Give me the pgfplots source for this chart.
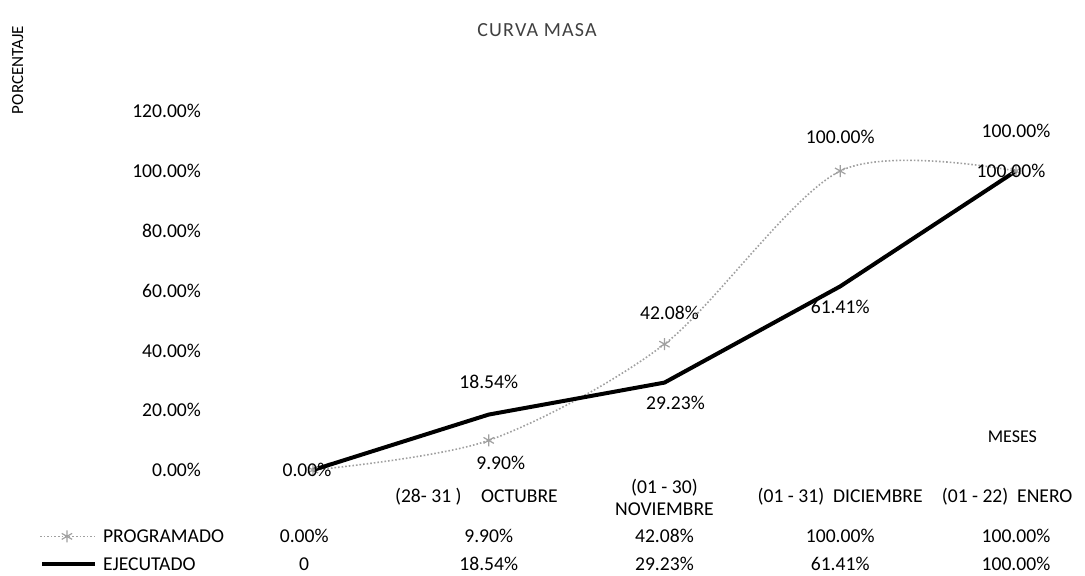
\documentclass[border=0pt]{standalone}
\usepackage{fontspec}
\setmainfont{Carlito}
\usepackage{pgfplots}
\usepackage{pgfplotstable}
\pgfplotsset{compat=1.18}
\definecolor{prog}{RGB}{160,160,160}
\pgfplotstableread{
x y lab dx dy
0 0 0.00\% -3 0
1 9.90 9.90\% 6 -11
2 42.08 42.08\% 2.5 15.5
3 100 100.00\% 0 17
4 100 100.00\% 0 20
}\prog
\pgfplotstableread{
x y lab dx dy
0 0 {} 0 0
1 18.54 18.54\% 0 16.5
2 29.23 29.23\% 5.5 -10
3 61.41 61.41\% 0 -10.5
4 100 100.00\% -2.5 0
}\ejec
\pgfplotstableread{
x y lab
-0.05 -22.2 0.00\%
1 -22.2 9.90\%
2 -22.2 42.08\%
3 -22.2 100.00\%
4 -22.2 100.00\%
}\progrow
\pgfplotstableread{
x y lab
-0.05 -31.4 0
1 -31.4 18.54\%
2 -31.4 29.23\%
3 -31.4 61.41\%
4 -31.4 100.00\%
}\ejecrow
\begin{document}
\begin{tikzpicture}
\begin{axis}[
  scale only axis, width=542.5pt, height=287.5pt,
  xmin=-1.781, xmax=4.393, ymin=-35.12, ymax=157.19,
  clip=false,
  axis line style={draw=none}, tick style={draw=none},
  xtick=\empty,
  ytick={0,20,...,120},
  yticklabel={\pgfmathprintnumber[fixed,fixed zerofill,precision=2]{\tick}\%},
  /pgf/number format/assume math mode=true,
  yticklabel style={font=\fontsize{9.8}{11}\selectfont, anchor=east, xshift=104pt},
  every node near coord/.append style={font=\fontsize{9.8}{11}\selectfont, text=black},
]
% programado curve
\addplot[prog, line width=0.8pt, densely dotted, smooth, mark=asterisk, mark size=3pt,
  mark options={solid, line width=0.6pt},
  nodes near coords, point meta=explicit symbolic,
  visualization depends on={\thisrow{dx} \as \dx},
  visualization depends on={\thisrow{dy} \as \dy},
  nodes near coords style={anchor=center, xshift=\dx pt, yshift=\dy pt}]
  table[x=x, y=y, meta=lab] {\prog};
% ejecutado
\addplot[black, line width=2pt, mark=none,
  nodes near coords, point meta=explicit symbolic,
  visualization depends on={\thisrow{dx} \as \dx},
  visualization depends on={\thisrow{dy} \as \dy},
  nodes near coords style={anchor=center, xshift=\dx pt, yshift=\dy pt}]
  table[x=x, y=y, meta=lab] {\ejec};
% data table rows
\addplot[draw=none, mark=none, nodes near coords, point meta=explicit symbolic,
  nodes near coords style={anchor=center}] table[x=x, y=y, meta=lab] {\progrow};
\addplot[draw=none, mark=none, nodes near coords, point meta=explicit symbolic,
  nodes near coords style={anchor=center}] table[x=x, y=y, meta=lab] {\ejecrow};
% legend samples
\addplot[prog, line width=0.8pt, densely dotted, mark=none] coordinates {(-1.553,-22.2) (-1.240,-22.2)};
\addplot[prog, only marks, mark=asterisk, mark size=3pt, mark options={solid, line width=0.6pt}] coordinates {(-1.400,-22.2)};
\addplot[black, line width=2pt, mark=none] coordinates {(-1.541,-31.4) (-1.240,-31.4)};
% texts
\node[font=\fontsize{9.8}{11}\selectfont, anchor=west] at (axis cs:-1.235,-22.2) {PROGRAMADO};
\node[font=\fontsize{9.8}{11}\selectfont, anchor=west] at (axis cs:-1.235,-31.4) {EJECUTADO};
\node[font=\fontsize{9.8}{11}\selectfont] at (axis cs:0.93,-9) {(28- 31 )\quad OCTUBRE};
\node[font=\fontsize{9.8}{11}\selectfont, align=center] at (axis cs:2,-9) {(01 - 30)\\NOVIEMBRE};
\node[font=\fontsize{9.8}{11}\selectfont] at (axis cs:3,-9) {(01 - 31)\ \ DICIEMBRE};
\node[font=\fontsize{9.8}{11}\selectfont] at (axis cs:3.95,-9) {(01 - 22)\ \ ENERO};
\node[font=\fontsize{9}{11}\selectfont] at (axis cs:3.98,11) {MESES};
\node[font=\fontsize{10}{12}\selectfont\addfontfeature{LetterSpace=6}, text=black!75] at (axis cs:1.275,147.2) {CURVA MASA};
\node[font=\fontsize{8.5}{10}\selectfont, rotate=90] at (axis cs:-1.68,133.8) {PORCENTAJE};
\end{axis}
\pgfresetboundingbox
\path (current axis.south west) rectangle (current axis.north east);
\end{tikzpicture}
\end{document}
